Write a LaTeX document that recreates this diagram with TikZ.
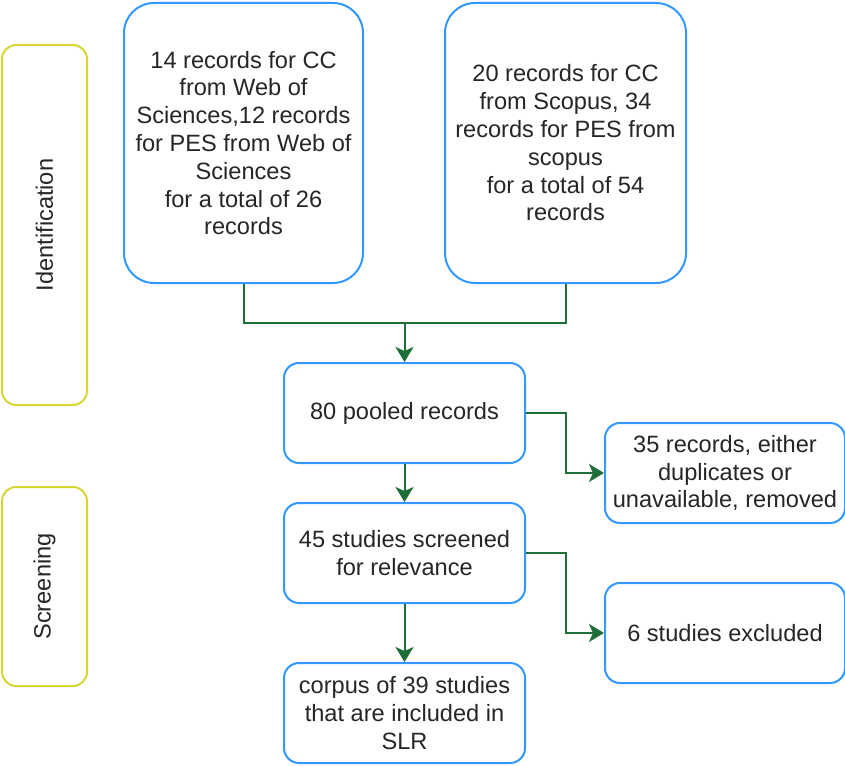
\documentclass[tikz,border=0pt]{standalone}
\usepackage{fontspec}
\setmainfont{Liberation Sans}
\usetikzlibrary{arrows.meta}
\definecolor{boxblue}{RGB}{51,153,255}
\definecolor{lanegold}{RGB}{214,214,52}
\definecolor{flowgreen}{RGB}{30,110,55}
\definecolor{txt}{RGB}{38,38,38}
\begin{document}
\begin{tikzpicture}[x=1pt,y=-1pt,
  box/.style={draw=boxblue, line width=2pt, fill=white, align=center, text=txt,
    font=\fontsize{23.6}{27.8}\selectfont, inner sep=0pt},
  bigbox/.style={box, rounded corners=30pt, minimum width=239pt, minimum height=280pt},
  smallbox/.style={box, rounded corners=15pt, minimum width=240pt, minimum height=100pt},
  lane/.style={draw=lanegold, line width=2pt, rounded corners=14pt, fill=white,
    minimum height=85pt, rotate=90, text=txt, inner sep=0pt,
    font=\fontsize{23.6}{27.8}\selectfont},
  link/.style={draw=flowgreen, line width=2pt},
  flow/.style={link, -{Stealth[length=15pt,width=18pt,inset=4pt]}}]
\useasboundingbox (0,0) rectangle (845,765);
\node[lane, minimum width=360pt] (ident) at (44.5,225) {Identification};
\node[lane, minimum width=199pt] (screen) at (44.5,586.5) {Screening};
\node[bigbox] (wos) at (243.5,143) {14 records for CC\\from Web of\\Sciences,12 records\\for PES from Web of\\Sciences\\for a total of 26\\records};
\node[bigbox, minimum width=241pt] (scopus) at (565.5,143) {20 records for CC\\from Scopus, 34\\records for PES from\\scopus\\for a total of 54\\records};
\node[smallbox, minimum width=241pt] (pool) at (404.5,413) {80 pooled records};
\node[smallbox] (rem) at (725,473) {35 records, either\\duplicates or\\unavailable, removed};
\node[smallbox, minimum width=241pt] (scr) at (404.5,553) {45 studies screened\\for relevance};
\node[smallbox] (exc) at (725,633) {6 studies excluded};
\node[smallbox, minimum width=241pt] (corp) at (404.5,713) {corpus of 39 studies\\that are included in\\SLR};
\coordinate (join) at (404.5,323);
\draw[link] (wos.south) |- (join) -| (scopus.south);
\draw[flow] (join) -- (pool.north);
\draw[flow] (pool.east) -- ++(40,0) |- (rem.west);
\draw[flow] (scr.east) -- ++(40,0) |- (exc.west);
\draw[flow] (pool.south) -- (scr.north);
\draw[flow] (scr.south) -- (corp.north);
\end{tikzpicture}
\end{document}
